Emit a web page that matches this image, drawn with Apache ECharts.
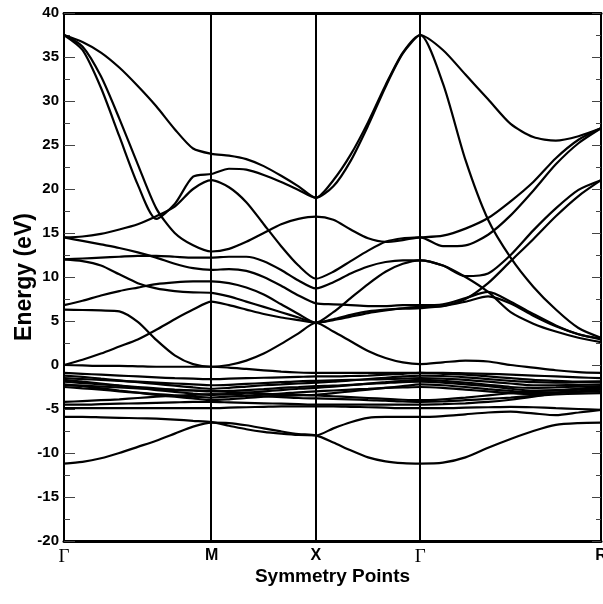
<!DOCTYPE html>
<html>
<head>
<meta charset="utf-8">
<script src="https://cdn.jsdelivr.net/npm/echarts@6/dist/echarts.min.js"></script>
<style>
html,body{margin:0;padding:0;background:#fff;}
#chart{width:603px;height:604px;}
</style>
</head>
<body>
<div id="chart"></div>
<script>
// high-symmetry points (k-path distance) and labels
const symK = [0, 1.414, 2.414, 3.414, 5.146];
const symLabels = ['Γ', 'M', 'X', 'Γ', 'R'];
// k sample positions along the path
const kGrid = [0, 0.177, 0.354, 0.530, 0.707, 0.884, 1.061, 1.237, 1.414,
  1.581, 1.747, 1.914, 2.081, 2.247, 2.414,
  2.581, 2.747, 2.914, 3.081, 3.247, 3.414,
  3.631, 3.847, 4.064, 4.280, 4.497, 4.713, 4.930, 5.146];
// energies (eV) of each band at the k samples
const bandA = [37.5, 36.7, 35.5, 33.8, 31.7, 29.4, 26.8, 24.6, 24.0, 23.8, 23.4, 22.6, 21.5, 20.3, 19.0, 21.0, 23.9, 27.6, 31.8, 35.5, 37.5, 35.8, 33.0, 30.2, 27.4, 25.9, 25.5, 26.0, 26.9];
const bandB = [37.5, 35.8, 31.5, 26.0, 20.5, 16.6, 18.3, 21.4, 21.7, 22.3, 22.2, 21.6, 20.8, 19.9, 19.0, 20.3, 23.2, 27.2, 31.6, 35.4, 37.5, 32.0, 23.3, 16.5, 12.2, 8.9, 6.3, 4.2, 3.1];
const bandC = [37.5, 36.2, 32.8, 28.0, 22.8, 17.8, 15.0, 13.6, 12.9, 13.2, 14.0, 15.0, 16.0, 16.6, 16.85, 16.5, 15.4, 14.4, 14.0, 14.2, 14.5, 13.5, 13.6, 14.8, 17.0, 19.8, 22.8, 25.2, 26.9];
const bandD = [14.5, 14.6, 14.9, 15.4, 16.0, 16.9, 18.0, 20.0, 21.0, 20.2, 18.5, 16.0, 13.5, 11.3, 9.8, 10.6, 11.8, 13.0, 14.0, 14.4, 14.5, 14.7, 15.5, 16.7, 18.6, 20.8, 23.5, 25.6, 26.9];
const bandE = [14.5, 14.1, 13.7, 13.3, 12.8, 12.2, 11.5, 11.0, 10.8, 10.9, 10.7, 10.0, 9.0, 7.9, 7.0, 6.9, 6.8, 6.7, 6.7, 6.8, 6.8, 6.9, 7.6, 8.3, 7.2, 5.8, 4.5, 3.5, 3.0];
const bandF = [12.0, 12.1, 12.2, 12.3, 12.4, 12.4, 12.3, 12.2, 12.2, 12.3, 12.3, 11.8, 10.8, 9.6, 8.7, 9.4, 10.4, 11.2, 11.7, 11.9, 11.9, 11.3, 10.1, 10.4, 12.5, 15.3, 17.8, 19.9, 21.0];
const bandG = [12.0, 11.8, 11.3, 10.3, 9.3, 8.7, 8.4, 8.25, 8.2, 7.8, 7.2, 6.6, 6.0, 5.4, 4.8, 5.2, 5.7, 6.1, 6.3, 6.4, 6.45, 6.7, 7.5, 9.3, 11.8, 14.3, 16.9, 19.2, 21.0];
const bandH = [6.8, 7.3, 7.9, 8.4, 8.8, 9.2, 9.4, 9.5, 9.5, 9.3, 8.8, 8.0, 6.9, 5.8, 4.8, 6.0, 7.6, 9.2, 10.6, 11.5, 11.9, 11.3, 10.0, 8.3, 6.0, 4.7, 3.8, 3.1, 2.6];
const bandI = [6.3, 6.25, 6.2, 6.1, 4.9, 2.85, 1.1, 0.1, -0.2, 0.0, 0.5, 1.3, 2.4, 3.6, 4.8, 3.8, 2.7, 1.6, 0.8, 0.3, 0.1, 0.3, 0.5, 0.4, 0.0, -0.3, -0.6, -0.8, -0.9];
const bandJ = [0.0, 0.6, 1.3, 2.1, 2.9, 4.0, 5.2, 6.3, 7.2, 6.8, 6.3, 5.8, 5.4, 5.1, 4.8, 5.1, 5.5, 5.9, 6.2, 6.45, 6.6, 6.7, 7.2, 7.8, 7.0, 5.6, 4.4, 3.5, 2.9];
const bandK = [0.0, -0.05, -0.1, -0.1, -0.15, -0.2, -0.2, -0.2, -0.2, -0.3, -0.45, -0.6, -0.75, -0.85, -0.9, -0.9, -0.9, -0.9, -0.9, -0.9, -0.9, -0.9, -0.95, -1.0, -1.1, -1.2, -1.3, -1.4, -1.5];
const bandV1 = [-0.9, -1.0, -1.1, -1.2, -1.3, -1.4, -1.5, -1.55, -1.6, -1.55, -1.5, -1.45, -1.4, -1.35, -1.3, -1.3, -1.25, -1.2, -1.1, -1.0, -0.9, -1.0, -1.1, -1.3, -1.5, -1.7, -1.8, -1.9, -1.9];
const bandV2 = [-1.2, -1.35, -1.55, -1.75, -1.95, -2.15, -2.35, -2.55, -2.7, -2.6, -2.45, -2.3, -2.2, -2.1, -2.0, -1.9, -1.75, -1.6, -1.45, -1.3, -1.2, -1.25, -1.4, -1.6, -1.8, -1.95, -2.0, -1.95, -1.9];
const bandV3 = [-1.5, -1.6, -1.7, -1.8, -1.9, -2.0, -2.1, -2.2, -2.3, -2.25, -2.15, -2.05, -1.95, -1.85, -1.8, -1.75, -1.7, -1.65, -1.6, -1.55, -1.5, -1.55, -1.7, -1.9, -2.1, -2.3, -2.3, -2.25, -2.2];
const bandV4 = [-1.9, -2.05, -2.2, -2.35, -2.5, -2.65, -2.8, -2.9, -3.0, -2.95, -2.85, -2.75, -2.6, -2.5, -2.4, -2.35, -2.25, -2.15, -2.05, -1.95, -1.9, -2.0, -2.2, -2.4, -2.7, -2.9, -2.9, -2.7, -2.5];
const bandV5 = [-2.2, -2.4, -2.65, -2.9, -3.15, -3.4, -3.6, -3.8, -4.0, -3.9, -3.75, -3.6, -3.5, -3.45, -3.4, -3.2, -3.0, -2.8, -2.6, -2.4, -2.2, -2.3, -2.5, -2.75, -2.95, -3.1, -3.1, -3.05, -3.0];
const bandV6 = [-2.5, -2.65, -2.8, -3.0, -3.15, -3.3, -3.45, -3.6, -3.7, -3.6, -3.5, -3.35, -3.25, -3.1, -3.0, -2.9, -2.8, -2.7, -2.6, -2.55, -2.5, -2.6, -2.8, -3.0, -3.2, -3.3, -3.2, -3.0, -2.8];
const bandV7 = [-4.2, -4.1, -4.0, -3.9, -3.75, -3.6, -3.5, -3.4, -3.3, -3.35, -3.45, -3.55, -3.65, -3.75, -3.8, -3.85, -3.9, -4.0, -4.05, -4.15, -4.2, -4.15, -4.0, -3.85, -3.7, -3.5, -3.35, -3.25, -3.2];
const bandV8 = [-4.5, -4.5, -4.45, -4.4, -4.35, -4.3, -4.25, -4.2, -4.2, -4.25, -4.3, -4.35, -4.4, -4.45, -4.5, -4.5, -4.5, -4.5, -4.5, -4.5, -4.5, -4.45, -4.35, -4.2, -3.95, -3.6, -3.2, -2.8, -2.6];
const bandV9 = [-4.9, -4.9, -4.9, -4.9, -4.9, -4.9, -4.9, -4.9, -4.9, -4.85, -4.8, -4.75, -4.7, -4.7, -4.7, -4.7, -4.75, -4.8, -4.85, -4.9, -4.9, -4.9, -4.85, -4.8, -4.75, -4.8, -4.9, -5.0, -5.1];
const bandV10 = [-5.9, -5.9, -5.95, -6.0, -6.05, -6.1, -6.2, -6.35, -6.5, -6.9, -7.3, -7.6, -7.8, -7.95, -8.0, -7.2, -6.5, -6.0, -5.9, -5.9, -5.9, -5.8, -5.6, -5.4, -5.3, -5.5, -5.7, -5.4, -5.1];
const bandV11 = [-11.2, -11.0, -10.6, -10.0, -9.3, -8.6, -7.8, -7.0, -6.55, -6.6, -6.85, -7.2, -7.55, -7.85, -8.0, -8.8, -9.7, -10.5, -10.95, -11.15, -11.2, -11.1, -10.5, -9.4, -8.4, -7.5, -6.8, -6.6, -6.55];
const bandV12 = [-1.7, -1.9, -2.1, -2.35, -2.6, -2.85, -3.05, -3.25, -3.4, -3.3, -3.15, -3.0, -2.85, -2.7, -2.6, -2.45, -2.3, -2.1, -1.95, -1.8, -1.7, -1.8, -2.0, -2.25, -2.5, -2.6, -2.55, -2.45, -2.4];
const bandV13 = [-2.3, -2.35, -2.45, -2.55, -2.65, -2.75, -2.85, -2.9, -2.95, -3.05, -3.15, -3.25, -3.35, -3.4, -3.45, -3.55, -3.65, -3.75, -3.85, -3.95, -4.0, -3.9, -3.7, -3.45, -3.2, -3.0, -2.85, -2.75, -2.7];

const bands = [bandA, bandB, bandC, bandD, bandE, bandF, bandG, bandH, bandI, bandJ, bandK,
  bandV1, bandV2, bandV3, bandV4, bandV5, bandV6, bandV7, bandV8, bandV9, bandV10, bandV11,
  bandV12, bandV13];

const chart = echarts.init(document.getElementById('chart'), null, {renderer: 'canvas'});

const series = bands.map((b, idx) => {
  const s = {
    type: 'line',
    data: kGrid.map((k, i) => [k, b[i]]),
    showSymbol: false,
    smooth: 0.25,
    lineStyle: {color: '#000', width: 2.2},
    silent: true,
    animation: false,
    z: 3
  };
  if (idx === 0) {
    s.markLine = {
      silent: true,
      symbol: ['none', 'none'],
      label: {show: false},
      lineStyle: {color: '#000', width: 2, type: 'solid'},
      data: symK.slice(1, 4).map(k => ({xAxis: k})),
      animation: false
    };
  }
  return s;
});

const tickColor = '#444';
const labelFont = 'Liberation Sans, Arial, sans-serif';

chart.setOption({
  animation: false,
  backgroundColor: '#fff',
  grid: {left: 64, right: 2, top: 13, bottom: 63, containLabel: false, outerBoundsMode: 'none'},
  xAxis: [{
    type: 'value', min: 0, max: symK[symK.length - 1], position: 'bottom',
    axisLine: {show: true, onZero: false, lineStyle: {color: '#000', width: 3}},
    axisTick: {show: false},
    splitLine: {show: false},
    axisLabel: {
      customValues: symK,
      showMinLabel: true, showMaxLabel: true,
      hideOverlap: false,
      margin: 7,
      color: '#000', fontWeight: 'bold', fontSize: 16, fontFamily: labelFont,
      formatter: function (v) {
        let i = symK.findIndex(k => Math.abs(k - v) < 1e-6);
        const n = i >= 0 ? symLabels[i] : '';
        return n === 'Γ' ? '{g|Γ}' : n;
      },
      rich: {g: {fontFamily: 'Liberation Serif, Times New Roman, serif', fontWeight: 'normal', fontSize: 19, color: '#000'}}
    },
    name: 'Symmetry Points', nameLocation: 'middle', nameGap: 26, nameMoveOverlap: false,
    nameTextStyle: {color: '#000', fontWeight: 'bold', fontSize: 19, fontFamily: labelFont}
  }, {
    type: 'value', min: 0, max: symK[symK.length - 1], position: 'top',
    axisLine: {show: true, onZero: false, lineStyle: {color: '#000', width: 3}},
    axisTick: {show: false}, axisLabel: {show: false}, splitLine: {show: false}
  }],
  yAxis: [{
    type: 'value', min: -20, max: 40, interval: 5, position: 'left',
    axisLine: {show: true, onZero: false, lineStyle: {color: '#000', width: 2}},
    axisTick: {show: true, inside: true, length: 11, lineStyle: {color: tickColor, width: 1}},
    minorTick: {show: true, splitNumber: 2, length: 6, lineStyle: {color: tickColor, width: 1}},
    splitLine: {show: false},
    axisLabel: {color: '#000', fontWeight: 'bold', fontSize: 15, fontFamily: labelFont, margin: 5},
    name: 'Energy (eV)', nameLocation: 'middle', nameGap: 28, nameMoveOverlap: false,
    nameTextStyle: {color: '#000', fontWeight: 'bold', fontSize: 23, fontFamily: labelFont}
  }, {
    type: 'value', min: -20, max: 40, interval: 5, position: 'right',
    axisLine: {show: true, onZero: false, lineStyle: {color: '#000', width: 2}},
    axisTick: {show: true, inside: true, length: 9, lineStyle: {color: tickColor, width: 1}},
    minorTick: {show: true, splitNumber: 2, length: 5, lineStyle: {color: tickColor, width: 1}},
    splitLine: {show: false},
    axisLabel: {show: false}
  }],
  series: series
});
</script>
</body>
</html>
